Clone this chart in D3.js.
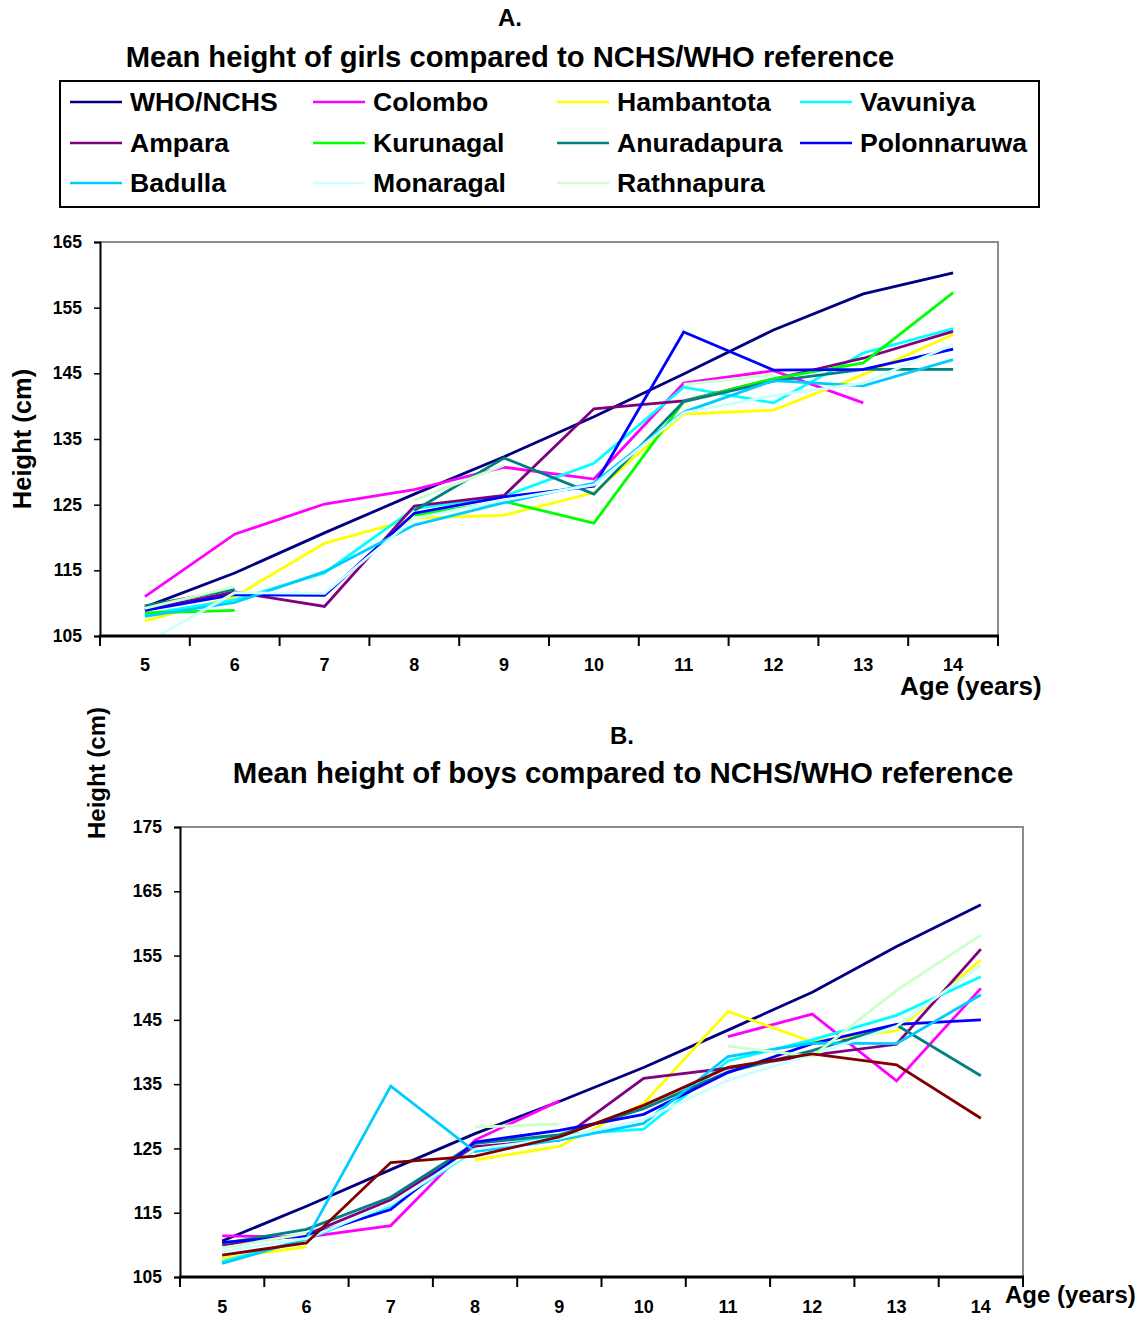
<!DOCTYPE html>
<head>
<meta charset="utf-8">
<style>
body { margin: 0; background: white; }
text { font-family: "Liberation Sans", Arial, sans-serif; font-weight: bold; fill: black; }
.series { fill: none; stroke-width: 2.8px; stroke-linejoin: miter; }
</style>
</head>
<body>
<div id="mainDiv"></div>
<script src="https://d3js.org/d3.v7.min.js"></script>
<script>

var width = 1145;
var height = 1320;

// ages on the x axis
var ages = [5, 6, 7, 8, 9, 10, 11, 12, 13, 14];
var yTicksA = [105, 115, 125, 135, 145, 155, 165];
var yTicksB = [105, 115, 125, 135, 145, 155, 165, 175];

var names = ["WHO/NCHS", "Colombo", "Hambantota", "Vavuniya", "Ampara", "Kurunagal",
             "Anuradapura", "Polonnaruwa", "Badulla", "Monaragal", "Rathnapura"];
var colors = ["#000080", "#ff00ff", "#ffff00", "#00ffff", "#800080", "#00ff00",
              "#008080", "#0000ff", "#00ccff", "#ccffff", "#ccffcc"];

// girls (A)
var girlsWHO         = [109.4, 114.6, 120.7, 126.6, 132.3, 138.4, 144.9, 151.6, 157.1, 160.3];
var girlsColombo     = [111.0, 120.5, 125.1, 127.3, 130.7, 128.9, 143.5, 145.4, 140.5, null];
var girlsHambantota  = [107.3, 111.0, 119.1, 122.9, 123.4, 126.8, 138.8, 139.4, 144.8, 150.9];
var girlsVavuniya    = [108.3, 110.5, 114.6, 124.4, 126.3, 131.3, 142.9, 140.5, 148.1, 151.8];
var girlsAmpara      = [109.0, 111.7, 109.5, 124.8, 126.4, 139.6, 140.8, 144.1, 147.3, 151.4];
var girlsKurunagal   = [108.5, 108.9, null, 123.4, 125.5, 122.2, 140.7, 144.2, 146.6, 157.3];
var girlsAnuradapura = [109.6, 112.1, null, 124.1, 132.1, 126.6, 140.7, 143.8, 145.6, 145.6];
var girlsPolonnaruwa = [108.9, 111.3, 111.2, 123.7, 126.2, 127.8, 151.3, 145.5, 145.6, 148.7];
var girlsBadulla     = [108.0, 110.1, 114.8, 121.9, 125.3, 128.3, 139.1, 143.9, 143.1, 147.1];
var girlsMonaragal   = [103.9, 111.6, 111.5, 122.9, 125.7, 128.0, 139.0, 141.6, 143.5, 149.4];
var girlsRathnapura  = [109.2, 112.5, null, 125.7, 131.0, null, 143.3, 144.8, null, null];

// boys (B)
var boysWHO         = [110.6, 116.0, 121.7, 127.3, 132.3, 137.6, 143.4, 149.3, 156.4, 162.9];
var boysColombo     = [111.4, 111.2, 113.0, 126.3, 132.4, null, 142.4, 145.9, 135.5, 149.9];
var boysHambantota  = [107.9, 109.7, null, 123.2, 125.3, 132.0, 146.3, 141.6, 143.3, 154.3];
var boysVavuniya    = [107.4, 110.9, 116.0, 124.8, 127.1, 128.0, 138.6, 141.9, 145.7, 151.7];
var boysAmpara      = [110.0, 111.6, 117.0, 125.3, 126.3, 135.9, 137.5, 139.5, 141.2, 156.0];
var boysAnuradapura = [110.2, 112.4, 117.4, 125.8, 127.1, 131.2, 136.9, 140.2, 144.2, 136.3];
var boysPolonnaruwa = [110.4, 111.4, 115.5, 126.0, 127.8, 130.3, 136.8, 141.3, 144.3, 145.0];
var boysBadulla     = [107.1, 110.9, 134.7, 124.5, 126.3, 128.9, 139.3, 141.4, 141.3, 148.9];
var boysMonaragal   = [109.0, 111.0, 116.3, 124.9, 126.6, 129.5, 135.6, 139.6, 144.0, 153.5];
var boysRathnapura  = [109.5, 111.8, null, 128.3, 128.8, null, 140.9, 139.3, 149.6, 158.2];
var boysUnlisted    = [108.4, 110.3, 122.8, 123.8, 126.8, 131.7, 137.6, 139.7, 138.0, 129.7];

var girlsSeries = [
  {values: girlsWHO, color: colors[0]},
  {values: girlsColombo, color: colors[1]},
  {values: girlsHambantota, color: colors[2]},
  {values: girlsVavuniya, color: colors[3]},
  {values: girlsAmpara, color: colors[4]},
  {values: girlsKurunagal, color: colors[5]},
  {values: girlsAnuradapura, color: colors[6]},
  {values: girlsPolonnaruwa, color: colors[7]},
  {values: girlsBadulla, color: colors[8]},
  {values: girlsMonaragal, color: colors[9]},
  {values: girlsRathnapura, color: colors[10]}
];

var boysSeries = [
  {values: boysWHO, color: colors[0]},
  {values: boysColombo, color: colors[1]},
  {values: boysHambantota, color: colors[2]},
  {values: boysVavuniya, color: colors[3]},
  {values: boysAmpara, color: colors[4]},
  {values: boysAnuradapura, color: colors[6]},
  {values: boysPolonnaruwa, color: colors[7]},
  {values: boysBadulla, color: colors[8]},
  {values: boysMonaragal, color: colors[9]},
  {values: boysRathnapura, color: colors[10]},
  {values: boysUnlisted, color: "#800000"}
];

var svg = d3.select("#mainDiv").append("svg")
    .attr("width", width)
    .attr("height", height);

svg.append("rect").attr("width", width).attr("height", height).attr("fill", "white");

function drawChart(id, series, yTicks, box, yDomain) {
  var x = d3.scaleBand().domain(ages).range([box.left, box.right]);
  var y = d3.scaleLinear().domain(yDomain).range([box.bottom, box.top]);

  svg.append("clipPath").attr("id", id)
    .append("rect")
    .attr("x", box.left).attr("y", box.top)
    .attr("width", box.right - box.left).attr("height", box.bottom - box.top);

  // plot frame: grey top and right
  svg.append("path")
    .attr("d", "M" + box.left + "," + box.top + "H" + box.right + "V" + box.bottom)
    .attr("fill", "none").attr("stroke", "#8c8c8c").attr("stroke-width", 2);

  var line = d3.line()
    .defined(function(d) { return d != null; })
    .x(function(d, i) { return x(ages[i]) + x.bandwidth() / 2; })
    .y(function(d) { return y(d); });

  svg.append("g").attr("clip-path", "url(#" + id + ")")
    .selectAll("path")
    .data(series)
    .enter().append("path")
    .attr("class", "series")
    .attr("stroke", function(d) { return d.color; })
    .attr("d", function(d) { return line(d.values); });

  // y axis
  var yAxis = svg.append("g")
    .attr("transform", "translate(" + box.left + ",0)")
    .call(d3.axisLeft(y).tickValues(yTicks).tickSize(6).tickPadding(12));
  yAxis.select(".domain").attr("stroke", "black").attr("stroke-width", 2);
  yAxis.selectAll(".tick line").attr("stroke", "black").attr("stroke-width", 1.5);
  yAxis.selectAll("text").style("font-size", "17.5px").style("font-family", "Liberation Sans, Arial").style("font-weight", "bold");

  // x axis: labels under the middle of each band, ticks on band edges
  var xAxis = svg.append("g")
    .attr("transform", "translate(0," + box.bottom + ")")
    .call(d3.axisBottom(x).tickSize(0).tickPadding(box.labelPad));
  xAxis.select(".domain").remove();
  xAxis.selectAll("text").style("font-size", "18px").style("font-family", "Liberation Sans, Arial").style("font-weight", "bold");

  var edges = ages.map(function(a) { return x(a); }).concat([box.right]);
  svg.append("g").selectAll("line")
    .data(edges)
    .enter().append("line")
    .attr("x1", function(d) { return d; }).attr("x2", function(d) { return d; })
    .attr("y1", box.bottom).attr("y2", box.bottom + 10)
    .attr("stroke", "black").attr("stroke-width", 2);

  svg.append("line")
    .attr("x1", box.left - 1).attr("x2", box.right + 1)
    .attr("y1", box.bottom).attr("y2", box.bottom)
    .attr("stroke", "black").attr("stroke-width", 3);
}

drawChart("clipA", girlsSeries, yTicksA, {left: 100, right: 998, top: 242, bottom: 636, labelPad: 22}, [105, 165]);
drawChart("clipB", boysSeries, yTicksB, {left: 180, right: 1023, top: 827, bottom: 1277, labelPad: 23}, [105, 175]);

// titles
svg.append("text").attr("x", 510).attr("y", 18).attr("dy", "0.35em")
  .attr("text-anchor", "middle").style("font-size", "24px").text("A.");
svg.append("text").attr("x", 510).attr("y", 57).attr("dy", "0.35em")
  .attr("text-anchor", "middle").style("font-size", "29.2px")
  .text("Mean height of girls compared to NCHS/WHO reference");
svg.append("text").attr("x", 622).attr("y", 736).attr("dy", "0.35em")
  .attr("text-anchor", "middle").style("font-size", "24px").text("B.");
svg.append("text").attr("x", 623).attr("y", 773).attr("dy", "0.35em")
  .attr("text-anchor", "middle").style("font-size", "29.4px")
  .text("Mean height of boys compared to NCHS/WHO reference");

// axis titles
svg.append("text").attr("transform", "translate(22,439) rotate(-90)").attr("dy", "0.35em")
  .attr("text-anchor", "middle").style("font-size", "25.5px").text("Height (cm)");
svg.append("text").attr("transform", "translate(97,773) rotate(-90)").attr("dy", "0.35em")
  .attr("text-anchor", "middle").style("font-size", "24px").text("Height (cm)");
svg.append("text").attr("x", 900).attr("y", 686).attr("dy", "0.35em")
  .style("font-size", "26px").text("Age (years)");
svg.append("text").attr("x", 1005).attr("y", 1295).attr("dy", "0.35em")
  .style("font-size", "24px").text("Age (years)");

// legend
svg.append("rect").attr("x", 60).attr("y", 81).attr("width", 979).attr("height", 126)
  .attr("fill", "white").attr("stroke", "black").attr("stroke-width", 2);

var legendCols = [70, 313, 557, 800];
var legendRows = [102, 143, 183];

var legendItem = svg.append("g").selectAll("g")
  .data(names)
  .enter().append("g")
  .attr("transform", function(d, i) {
    return "translate(" + legendCols[i % 4] + "," + legendRows[Math.floor(i / 4)] + ")";
  });

legendItem.append("line")
  .attr("x1", 0).attr("x2", 52).attr("y1", 0).attr("y2", 0)
  .attr("stroke", function(d, i) { return colors[i]; })
  .attr("stroke-width", 2.5);

legendItem.append("text")
  .attr("x", 60).attr("dy", "0.35em")
  .style("font-size", "26.6px")
  .text(function(d) { return d; });

</script>
</body>
</html>
